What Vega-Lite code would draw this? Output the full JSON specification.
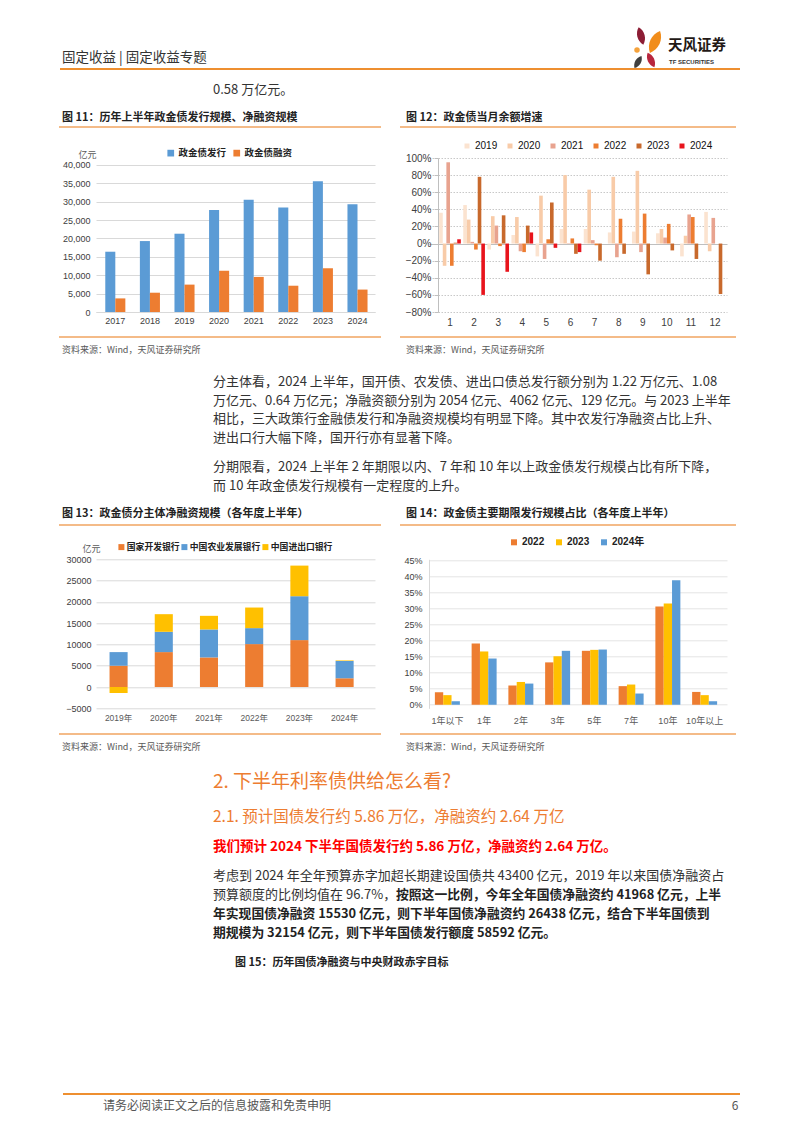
{
"$schema": "https://vega.github.io/schema/vega-lite/v6.json",
"background": "white",
"padding": 0,
"bounds": "flush",
"align": "each",
"columns": 2,
"spacing": {"row": 247.3, "column": 54},
"resolve": {"scale": {"x": "independent", "y": "independent", "color": "independent", "xOffset": "independent"}, "axis": {"x": "independent", "y": "independent"}, "legend": {"color": "independent"}},
"config": {
  "view": {"stroke": null},
  "font": "Noto Sans CJK SC",
  "text": {"font": "Noto Sans CJK SC", "align": "left", "baseline": "middle"},
  "axis": {"labelFont": "Liberation Sans, Noto Sans CJK SC", "titleFont": "Noto Sans CJK SC", "labelOverlap": false},
  "legend": {"labelFont": "Liberation Sans, Noto Sans CJK SC"}
},
"concat": [
{
  "width": 279, "height": 154,
  "layer": [
    {"data": {"values": [{}]}, "mark": {"type": "rect", "fill": "white", "fillOpacity": 0, "strokeWidth": 0}, "encoding": {"x": {"value": -96}, "x2": {"value": 706}, "y": {"value": -158}, "y2": {"value": 975}}},
    {
      "data": {"values": [
        {"year": "2017", "series": "政金债发行", "value": 16400}, {"year": "2017", "series": "政金债融资", "value": 3700},
        {"year": "2018", "series": "政金债发行", "value": 19300}, {"year": "2018", "series": "政金债融资", "value": 5250},
        {"year": "2019", "series": "政金债发行", "value": 21300}, {"year": "2019", "series": "政金债融资", "value": 7450},
        {"year": "2020", "series": "政金债发行", "value": 27750}, {"year": "2020", "series": "政金债融资", "value": 11250},
        {"year": "2021", "series": "政金债发行", "value": 30550}, {"year": "2021", "series": "政金债融资", "value": 9550},
        {"year": "2022", "series": "政金债发行", "value": 28450}, {"year": "2022", "series": "政金债融资", "value": 7150},
        {"year": "2023", "series": "政金债发行", "value": 35550}, {"year": "2023", "series": "政金债融资", "value": 11900},
        {"year": "2024", "series": "政金债发行", "value": 29300}, {"year": "2024", "series": "政金债融资", "value": 6100}
      ]},
      "mark": {"type": "bar"},
      "encoding": {
        "x": {"field": "year", "type": "nominal", "scale": {"paddingInner": 0.42, "paddingOuter": 0.242, "align": 0.554}, "axis": {"title": null, "labelAngle": 0, "ticks": false, "domainColor": "#D9D9D9", "labelPadding": 4, "labelFontSize": 9, "labelColor": "#404040"}},
        "xOffset": {"field": "series", "type": "nominal", "scale": {"domain": ["政金债发行", "政金债融资"]}},
        "y": {"field": "value", "type": "quantitative", "scale": {"domain": [0, 41900], "nice": false}, "axis": {"values": [0, 5000, 10000, 15000, 20000, 25000, 30000, 35000, 40000], "format": ",d", "labelOverlap": false, "title": "亿元", "titleAngle": 0, "titleX": -9, "titleY": -4, "titleAlign": "center", "titleBaseline": "middle", "titleFontSize": 9, "titleFontWeight": "normal", "titleColor": "#595959", "domain": false, "ticks": false, "gridColor": "#D9D9D9", "labelPadding": 6, "labelFontSize": 9, "labelColor": "#404040"}},
        "color": {"field": "series", "type": "nominal", "scale": {"domain": ["政金债发行", "政金债融资"], "range": ["#5B9BD5", "#ED7D31"]}, "legend": {"orient": "none", "legendX": 70, "legendY": -10, "direction": "horizontal", "title": null, "symbolType": "square", "symbolSize": 45, "labelFontSize": 9.5, "labelFontWeight": "bold", "labelColor": "#222222", "columnPadding": 5, "labelOffset": 3}}
      }
    },
    {"data": {"values": [{"t": "固定收益 | 固定收益专题"}]}, "mark": {"type": "text", "fontSize": 13.5, "color": "#333333"}, "encoding": {"text": {"field": "t"}, "x": {"value": -34}, "y": {"value": -100}}},
    {"data": {"values": [{}]}, "mark": {"type": "point", "shape": "M0,-1C0.55,-0.45,0.55,0.45,0,1C-0.55,0.45,-0.55,-0.45,0,-1Z", "filled": true, "opacity": 1, "color": "#8C1D35", "size": 324, "angle": -15}, "encoding": {"x": {"value": 545}, "y": {"value": -122}}},
    {"data": {"values": [{}]}, "mark": {"type": "point", "shape": "M0,-1C0.55,-0.45,0.55,0.45,0,1C-0.55,0.45,-0.55,-0.45,0,-1Z", "filled": true, "opacity": 1, "color": "#F18D1B", "size": 576, "angle": 25}, "encoding": {"x": {"value": 559}, "y": {"value": -116}}},
    {"data": {"values": [{}]}, "mark": {"type": "point", "shape": "circle", "filled": true, "opacity": 1, "color": "#F5A23C", "size": 30}, "encoding": {"x": {"value": 541}, "y": {"value": -108}}},
    {"data": {"values": [{}]}, "mark": {"type": "point", "shape": "M0,-1C0.55,-0.45,0.55,0.45,0,1C-0.55,0.45,-0.55,-0.45,0,-1Z", "filled": true, "opacity": 1, "color": "#3F3F3F", "size": 196, "angle": 30}, "encoding": {"x": {"value": 542}, "y": {"value": -96}}},
    {"data": {"values": [{}]}, "mark": {"type": "point", "shape": "M0,-1C0.55,-0.45,0.55,0.45,0,1C-0.55,0.45,-0.55,-0.45,0,-1Z", "filled": true, "opacity": 1, "color": "#B8263E", "size": 256, "angle": -25}, "encoding": {"x": {"value": 555}, "y": {"value": -98}}},
    {"data": {"values": [{"t": "天风证券"}]}, "mark": {"type": "text", "fontSize": 14.5, "fontWeight": "bold", "color": "#231815"}, "encoding": {"text": {"field": "t"}, "x": {"value": 572}, "y": {"value": -112}}},
    {"data": {"values": [{"t": "TF SECURITIES"}]}, "mark": {"type": "text", "fontSize": 6, "fontWeight": "bold", "color": "#333333", "font": "Liberation Sans"}, "encoding": {"text": {"field": "t"}, "x": {"value": 573}, "y": {"value": -96}}},
    {"data": {"values": [{}]}, "mark": {"type": "rule", "color": "#EE8F30", "strokeWidth": 2}, "encoding": {"x": {"value": -36}, "x2": {"value": 644}, "y": {"value": -89}}},
    {"data": {"values": [{"t": "0.58 万亿元。"}]}, "mark": {"type": "text", "fontSize": 13, "color": "#333333"}, "encoding": {"text": {"field": "t"}, "x": {"value": 117}, "y": {"value": -68}}},
    {"data": {"values": [{"t": "图 11：历年上半年政金债发行规模、净融资规模"}]}, "mark": {"type": "text", "fontSize": 11, "fontWeight": "bold", "color": "#222222"}, "encoding": {"text": {"field": "t"}, "x": {"value": -34}, "y": {"value": -40}}},
    {"data": {"values": [{"t": "图 12：政金债当月余额增速"}]}, "mark": {"type": "text", "fontSize": 11, "fontWeight": "bold", "color": "#222222"}, "encoding": {"text": {"field": "t"}, "x": {"value": 310}, "y": {"value": -40}}},
    {"data": {"values": [{}]}, "mark": {"type": "rule", "color": "#F0A561", "strokeWidth": 1.3}, "encoding": {"x": {"value": -37}, "x2": {"value": 285}, "y": {"value": -31}}},
    {"data": {"values": [{}]}, "mark": {"type": "rule", "color": "#F0A561", "strokeWidth": 1.3}, "encoding": {"x": {"value": 304}, "x2": {"value": 640}, "y": {"value": -31}}},
    {"data": {"values": [{}]}, "mark": {"type": "rule", "color": "#F0A561", "strokeWidth": 1.3}, "encoding": {"x": {"value": -37}, "x2": {"value": 285}, "y": {"value": 179}}},
    {"data": {"values": [{}]}, "mark": {"type": "rule", "color": "#F0A561", "strokeWidth": 1.3}, "encoding": {"x": {"value": 304}, "x2": {"value": 640}, "y": {"value": 179}}},
    {"data": {"values": [{"t": "资料来源：Wind，天风证券研究所"}]}, "mark": {"type": "text", "fontSize": 9, "color": "#595959"}, "encoding": {"text": {"field": "t"}, "x": {"value": -34}, "y": {"value": 192}}},
    {"data": {"values": [{"t": "资料来源：Wind，天风证券研究所"}]}, "mark": {"type": "text", "fontSize": 9, "color": "#595959"}, "encoding": {"text": {"field": "t"}, "x": {"value": 310}, "y": {"value": 192}}},
    {"data": {"values": [{"t": "分主体看，2024 上半年，国开债、农发债、进出口债总发行额分别为 1.22 万亿元、1.08"}]}, "mark": {"type": "text", "fontSize": 13, "color": "#333333"}, "encoding": {"text": {"field": "t"}, "x": {"value": 117}, "y": {"value": 224}}},
    {"data": {"values": [{"t": "万亿元、0.64 万亿元；净融资额分别为 2054 亿元、4062 亿元、129 亿元。与 2023 上半年"}]}, "mark": {"type": "text", "fontSize": 13, "color": "#333333"}, "encoding": {"text": {"field": "t"}, "x": {"value": 117}, "y": {"value": 242.5}}},
    {"data": {"values": [{"t": "相比，三大政策行金融债发行和净融资规模均有明显下降。其中农发行净融资占比上升、"}]}, "mark": {"type": "text", "fontSize": 13, "color": "#333333"}, "encoding": {"text": {"field": "t"}, "x": {"value": 117}, "y": {"value": 261}}},
    {"data": {"values": [{"t": "进出口行大幅下降，国开行亦有显著下降。"}]}, "mark": {"type": "text", "fontSize": 13, "color": "#333333"}, "encoding": {"text": {"field": "t"}, "x": {"value": 117}, "y": {"value": 279.5}}},
    {"data": {"values": [{"t": "分期限看，2024 上半年 2 年期限以内、7 年和 10 年以上政金债发行规模占比有所下降，"}]}, "mark": {"type": "text", "fontSize": 13, "color": "#333333"}, "encoding": {"text": {"field": "t"}, "x": {"value": 117}, "y": {"value": 309}}},
    {"data": {"values": [{"t": "而 10 年政金债发行规模有一定程度的上升。"}]}, "mark": {"type": "text", "fontSize": 13, "color": "#333333"}, "encoding": {"text": {"field": "t"}, "x": {"value": 117}, "y": {"value": 327.5}}},
    {"data": {"values": [{"t": "图 13：政金债分主体净融资规模（各年度上半年）"}]}, "mark": {"type": "text", "fontSize": 11, "fontWeight": "bold", "color": "#222222"}, "encoding": {"text": {"field": "t"}, "x": {"value": -34}, "y": {"value": 356}}},
    {"data": {"values": [{"t": "图 14：政金债主要期限发行规模占比（各年度上半年）"}]}, "mark": {"type": "text", "fontSize": 11, "fontWeight": "bold", "color": "#222222"}, "encoding": {"text": {"field": "t"}, "x": {"value": 310}, "y": {"value": 356}}},
    {"data": {"values": [{}]}, "mark": {"type": "rule", "color": "#F0A561", "strokeWidth": 1.3}, "encoding": {"x": {"value": -37}, "x2": {"value": 285}, "y": {"value": 367}}},
    {"data": {"values": [{}]}, "mark": {"type": "rule", "color": "#F0A561", "strokeWidth": 1.3}, "encoding": {"x": {"value": 304}, "x2": {"value": 640}, "y": {"value": 367}}},
    {"data": {"values": [{}]}, "mark": {"type": "rule", "color": "#F0A561", "strokeWidth": 1.3}, "encoding": {"x": {"value": -37}, "x2": {"value": 285}, "y": {"value": 576}}},
    {"data": {"values": [{}]}, "mark": {"type": "rule", "color": "#F0A561", "strokeWidth": 1.3}, "encoding": {"x": {"value": 304}, "x2": {"value": 640}, "y": {"value": 576}}},
    {"data": {"values": [{"t": "资料来源：Wind，天风证券研究所"}]}, "mark": {"type": "text", "fontSize": 9, "color": "#595959"}, "encoding": {"text": {"field": "t"}, "x": {"value": -34}, "y": {"value": 588.5}}},
    {"data": {"values": [{"t": "资料来源：Wind，天风证券研究所"}]}, "mark": {"type": "text", "fontSize": 9, "color": "#595959"}, "encoding": {"text": {"field": "t"}, "x": {"value": 310}, "y": {"value": 588.5}}},
    {"data": {"values": [{"t": "2. 下半年利率债供给怎么看?"}]}, "mark": {"type": "text", "fontSize": 19, "color": "#ED7D31"}, "encoding": {"text": {"field": "t"}, "x": {"value": 117}, "y": {"value": 624}}},
    {"data": {"values": [{"t": "2.1. 预计国债发行约 5.86 万亿，净融资约 2.64 万亿"}]}, "mark": {"type": "text", "fontSize": 15.5, "color": "#ED7D31"}, "encoding": {"text": {"field": "t"}, "x": {"value": 117}, "y": {"value": 659}}},
    {"data": {"values": [{"t": "我们预计 2024 下半年国债发行约 5.86 万亿，净融资约 2.64 万亿。"}]}, "mark": {"type": "text", "fontSize": 13.5, "fontWeight": "bold", "color": "#FF0000"}, "encoding": {"text": {"field": "t"}, "x": {"value": 117}, "y": {"value": 689}}},
    {"data": {"values": [{"t": "考虑到 2024 年全年预算赤字加超长期建设国债共 43400 亿元，2019 年以来国债净融资占"}]}, "mark": {"type": "text", "fontSize": 13, "color": "#333333"}, "encoding": {"text": {"field": "t"}, "x": {"value": 117}, "y": {"value": 718}}},
    {"data": {"values": [{"t": "预算额度的比例均值在 96.7%，"}]}, "mark": {"type": "text", "fontSize": 13, "color": "#333333"}, "encoding": {"text": {"field": "t"}, "x": {"value": 117}, "y": {"value": 737}}},
    {"data": {"values": [{"t": "按照这一比例，今年全年国债净融资约 41968 亿元，上半"}]}, "mark": {"type": "text", "fontSize": 12.8, "fontWeight": "bold", "color": "#222222"}, "encoding": {"text": {"field": "t"}, "x": {"value": 300}, "y": {"value": 737}}},
    {"data": {"values": [{"t": "年实现国债净融资 15530 亿元，则下半年国债净融资约 26438 亿元，结合下半年国债到"}]}, "mark": {"type": "text", "fontSize": 12.8, "fontWeight": "bold", "color": "#222222"}, "encoding": {"text": {"field": "t"}, "x": {"value": 117}, "y": {"value": 756}}},
    {"data": {"values": [{"t": "期规模为 32154 亿元，则下半年国债发行额度 58592 亿元。"}]}, "mark": {"type": "text", "fontSize": 12.8, "fontWeight": "bold", "color": "#222222"}, "encoding": {"text": {"field": "t"}, "x": {"value": 117}, "y": {"value": 775}}},
    {"data": {"values": [{"t": "图 15：历年国债净融资与中央财政赤字目标"}]}, "mark": {"type": "text", "fontSize": 11, "fontWeight": "bold", "color": "#222222"}, "encoding": {"text": {"field": "t"}, "x": {"value": 139}, "y": {"value": 805}}},
    {"data": {"values": [{}]}, "mark": {"type": "rule", "color": "#EE8F30", "strokeWidth": 2}, "encoding": {"x": {"value": -33}, "x2": {"value": 644}, "y": {"value": 936}}},
    {"data": {"values": [{"t": "请务必阅读正文之后的信息披露和免责申明"}]}, "mark": {"type": "text", "fontSize": 12, "color": "#555555"}, "encoding": {"text": {"field": "t"}, "x": {"value": 7}, "y": {"value": 948}}},
    {"data": {"values": [{"t": "6"}]}, "mark": {"type": "text", "fontSize": 12, "color": "#555555", "align": "center"}, "encoding": {"text": {"field": "t"}, "x": {"value": 639}, "y": {"value": 948}}}
  ]
},
{
  "width": 298, "height": 154,
  "data": {"values": [
    {"m": 1, "y": "2019", "v": 0.36}, {"m": 1, "y": "2020", "v": -0.26}, {"m": 1, "y": "2021", "v": 0.95}, {"m": 1, "y": "2022", "v": -0.26}, {"m": 1, "y": "2023", "v": 0.01}, {"m": 1, "y": "2024", "v": 0.05},
    {"m": 2, "y": "2019", "v": 0.45}, {"m": 2, "y": "2020", "v": 0.28}, {"m": 2, "y": "2021", "v": 0.02}, {"m": 2, "y": "2022", "v": -0.07}, {"m": 2, "y": "2023", "v": 0.78}, {"m": 2, "y": "2024", "v": -0.6},
    {"m": 3, "y": "2019", "v": -0.07}, {"m": 3, "y": "2020", "v": 0.32}, {"m": 3, "y": "2021", "v": 0.21}, {"m": 3, "y": "2022", "v": -0.03}, {"m": 3, "y": "2023", "v": 0.33}, {"m": 3, "y": "2024", "v": -0.33},
    {"m": 4, "y": "2019", "v": 0.1}, {"m": 4, "y": "2020", "v": 0.31}, {"m": 4, "y": "2021", "v": -0.09}, {"m": 4, "y": "2022", "v": -0.1}, {"m": 4, "y": "2023", "v": 0.21}, {"m": 4, "y": "2024", "v": 0.13},
    {"m": 5, "y": "2019", "v": -0.15}, {"m": 5, "y": "2020", "v": 0.56}, {"m": 5, "y": "2021", "v": -0.18}, {"m": 5, "y": "2022", "v": 0.05}, {"m": 5, "y": "2023", "v": 0.48}, {"m": 5, "y": "2024", "v": -0.05},
    {"m": 6, "y": "2019", "v": 0.17}, {"m": 6, "y": "2020", "v": 0.8}, {"m": 6, "y": "2021", "v": 0.005}, {"m": 6, "y": "2022", "v": 0.06}, {"m": 6, "y": "2023", "v": -0.12}, {"m": 6, "y": "2024", "v": -0.1},
    {"m": 7, "y": "2019", "v": 0.17}, {"m": 7, "y": "2020", "v": 0.63}, {"m": 7, "y": "2021", "v": 0.04}, {"m": 7, "y": "2022", "v": -0.02}, {"m": 7, "y": "2023", "v": -0.2},
    {"m": 8, "y": "2019", "v": 0.13}, {"m": 8, "y": "2020", "v": 0.78}, {"m": 8, "y": "2021", "v": -0.16}, {"m": 8, "y": "2022", "v": 0.29}, {"m": 8, "y": "2023", "v": -0.12},
    {"m": 9, "y": "2019", "v": 0.14}, {"m": 9, "y": "2020", "v": 0.85}, {"m": 9, "y": "2021", "v": -0.1}, {"m": 9, "y": "2022", "v": 0.35}, {"m": 9, "y": "2023", "v": -0.36},
    {"m": 10, "y": "2019", "v": 0.12}, {"m": 10, "y": "2020", "v": 0.17}, {"m": 10, "y": "2021", "v": 0.07}, {"m": 10, "y": "2022", "v": 0.23}, {"m": 10, "y": "2023", "v": -0.08},
    {"m": 11, "y": "2019", "v": -0.15}, {"m": 11, "y": "2020", "v": 0.09}, {"m": 11, "y": "2021", "v": 0.34}, {"m": 11, "y": "2022", "v": 0.31}, {"m": 11, "y": "2023", "v": -0.18},
    {"m": 12, "y": "2019", "v": 0.37}, {"m": 12, "y": "2020", "v": -0.09}, {"m": 12, "y": "2021", "v": 0.3}, {"m": 12, "y": "2022", "v": 0.0}, {"m": 12, "y": "2023", "v": -0.59}
  ]},
  "mark": {"type": "bar"},
  "encoding": {
    "x": {"field": "m", "type": "ordinal", "scale": {"paddingInner": 0.1, "paddingOuter": 0.2326, "align": 0.905}, "axis": {"title": null, "labelAngle": 0, "domain": false, "ticks": false, "labelPadding": 5, "labelFontSize": 10, "labelColor": "#404040"}},
    "xOffset": {"field": "y", "type": "nominal", "scale": {"domain": ["2019", "2020", "2021", "2022", "2023", "2024"]}},
    "y": {"field": "v", "type": "quantitative", "scale": {"domain": [-0.8, 1.0], "nice": false}, "axis": {"title": null, "offset": -9, "values": [-0.8, -0.6, -0.4, -0.2, 0, 0.2, 0.4, 0.6, 0.8, 1.0], "format": ".0%", "labelOverlap": false, "labelBound": false, "domainColor": "#BFBFBF", "tickColor": "#BFBFBF", "tickSize": 4, "labelPadding": 3, "labelFontSize": 10, "labelColor": "#404040", "gridColor": {"condition": {"test": "abs(datum.value) < 0.001", "value": "#BFBFBF"}, "value": "#C8C8C8"}, "gridDash": {"condition": {"test": "abs(datum.value) < 0.001", "value": []}, "value": [1.5, 1.5]}}},
    "color": {"field": "y", "type": "nominal", "scale": {"domain": ["2019", "2020", "2021", "2022", "2023", "2024"], "range": ["#FBE3D0", "#F8CBA8", "#E8A38F", "#ED7D31", "#C8692C", "#E8141C"]}, "legend": {"orient": "none", "legendX": 33, "legendY": -17, "direction": "horizontal", "title": null, "symbolType": "square", "symbolSize": 25, "labelFontSize": 10, "labelColor": "#111111", "columnPadding": 7, "labelOffset": 3}}
  }
},
{
  "width": 279, "height": 149,
  "data": {"values": [
    {"yr": "2019年", "bank": "国家开发银行", "o": 1, "v": 5000}, {"yr": "2019年", "bank": "中国农业发展银行", "o": 2, "v": 3200}, {"yr": "2019年", "bank": "中国进出口银行", "o": 3, "v": -1400},
    {"yr": "2020年", "bank": "国家开发银行", "o": 1, "v": 8200}, {"yr": "2020年", "bank": "中国农业发展银行", "o": 2, "v": 4770}, {"yr": "2020年", "bank": "中国进出口银行", "o": 3, "v": 4140},
    {"yr": "2021年", "bank": "国家开发银行", "o": 1, "v": 6950}, {"yr": "2021年", "bank": "中国农业发展银行", "o": 2, "v": 6570}, {"yr": "2021年", "bank": "中国进出口银行", "o": 3, "v": 3200},
    {"yr": "2022年", "bank": "国家开发银行", "o": 1, "v": 10080}, {"yr": "2022年", "bank": "中国农业发展银行", "o": 2, "v": 3750}, {"yr": "2022年", "bank": "中国进出口银行", "o": 3, "v": 4840},
    {"yr": "2023年", "bank": "国家开发银行", "o": 1, "v": 11020}, {"yr": "2023年", "bank": "中国农业发展银行", "o": 2, "v": 10310}, {"yr": "2023年", "bank": "中国进出口银行", "o": 3, "v": 7190},
    {"yr": "2024年", "bank": "国家开发银行", "o": 1, "v": 2054}, {"yr": "2024年", "bank": "中国农业发展银行", "o": 2, "v": 4062}, {"yr": "2024年", "bank": "中国进出口银行", "o": 3, "v": 129}
  ]},
  "mark": {"type": "bar"},
  "encoding": {
    "x": {"field": "yr", "type": "nominal", "scale": {"paddingInner": 0.6, "paddingOuter": 0.386, "align": 0.388}, "axis": {"title": null, "labelAngle": 0, "domain": false, "ticks": false, "labelPadding": 5, "labelFontSize": 8.5, "labelColor": "#595959"}},
    "y": {"field": "v", "type": "quantitative", "stack": "zero", "scale": {"domain": [-5000, 30000], "nice": false}, "axis": {"values": [-5000, 0, 5000, 10000, 15000, 20000, 25000, 30000], "format": "d", "labelOverlap": false, "title": "亿元", "titleAngle": 0, "titleX": -5, "titleY": -11, "titleAlign": "center", "titleBaseline": "middle", "titleFontSize": 9, "titleFontWeight": "normal", "titleColor": "#595959", "domain": false, "ticks": false, "gridColor": "#D9D9D9", "labelPadding": 5, "labelFontSize": 9, "labelColor": "#404040"}},
    "order": {"field": "o", "type": "quantitative", "sort": "ascending"},
    "color": {"field": "bank", "type": "nominal", "sort": ["国家开发银行", "中国农业发展银行", "中国进出口银行"], "scale": {"domain": ["国家开发银行", "中国农业发展银行", "中国进出口银行"], "range": ["#ED7D31", "#5B9BD5", "#FFC000"]}, "legend": {"orient": "none", "legendX": 21, "legendY": -17, "direction": "horizontal", "title": null, "symbolType": "square", "symbolSize": 36, "labelFontSize": 8.8, "labelFontWeight": "bold", "labelColor": "#222222", "columnPadding": 0, "labelOffset": 1}}
  }
},
{
  "width": 298, "height": 149,
  "data": {"values": [
    {"term": "1年以下", "yr": "2022", "v": 3.9}, {"term": "1年以下", "yr": "2023", "v": 3.0}, {"term": "1年以下", "yr": "2024年", "v": 1.1},
    {"term": "1年", "yr": "2022", "v": 19.1}, {"term": "1年", "yr": "2023", "v": 16.6}, {"term": "1年", "yr": "2024年", "v": 14.4},
    {"term": "2年", "yr": "2022", "v": 6.0}, {"term": "2年", "yr": "2023", "v": 7.1}, {"term": "2年", "yr": "2024年", "v": 6.6},
    {"term": "3年", "yr": "2022", "v": 13.2}, {"term": "3年", "yr": "2023", "v": 15.1}, {"term": "3年", "yr": "2024年", "v": 16.8},
    {"term": "5年", "yr": "2022", "v": 16.8}, {"term": "5年", "yr": "2023", "v": 17.1}, {"term": "5年", "yr": "2024年", "v": 17.2},
    {"term": "7年", "yr": "2022", "v": 5.8}, {"term": "7年", "yr": "2023", "v": 6.3}, {"term": "7年", "yr": "2024年", "v": 3.5},
    {"term": "10年", "yr": "2022", "v": 30.6}, {"term": "10年", "yr": "2023", "v": 31.5}, {"term": "10年", "yr": "2024年", "v": 38.8},
    {"term": "10年以上", "yr": "2022", "v": 4.0}, {"term": "10年以上", "yr": "2023", "v": 3.0}, {"term": "10年以上", "yr": "2024年", "v": 1.1}
  ]},
  "mark": {"type": "bar"},
  "encoding": {
    "x": {"field": "term", "type": "nominal", "sort": ["1年以下", "1年", "2年", "3年", "5年", "7年", "10年", "10年以上"], "scale": {"paddingInner": 0.32, "paddingOuter": 0.2145, "align": 0.373}, "axis": {"title": null, "labelAngle": 0, "domain": false, "ticks": false, "labelPadding": 8, "labelFontSize": 9, "labelColor": "#595959"}},
    "xOffset": {"field": "yr", "type": "nominal", "scale": {"domain": ["2022", "2023", "2024年"]}},
    "y": {"field": "v", "type": "quantitative", "scale": {"domain": [-1.1, 45.3], "nice": false}, "axis": {"title": null, "values": [0, 5, 10, 15, 20, 25, 30, 35, 40, 45], "labelExpr": "datum.value + '%'", "labelOverlap": false, "domainColor": "#D9D9D9", "ticks": false, "labelPadding": 7, "labelFontSize": 9, "labelColor": "#404040", "gridColor": "#E4E4E4"}},
    "color": {"field": "yr", "type": "nominal", "scale": {"domain": ["2022", "2023", "2024年"], "range": ["#ED7D31", "#FFC000", "#5B9BD5"]}, "legend": {"orient": "none", "legendX": 80, "legendY": -22, "direction": "horizontal", "title": null, "symbolType": "square", "symbolSize": 36, "labelFontSize": 10, "labelFontWeight": "bold", "labelColor": "#222222", "columnPadding": 9, "labelOffset": 3}}
  }
}
]
}
